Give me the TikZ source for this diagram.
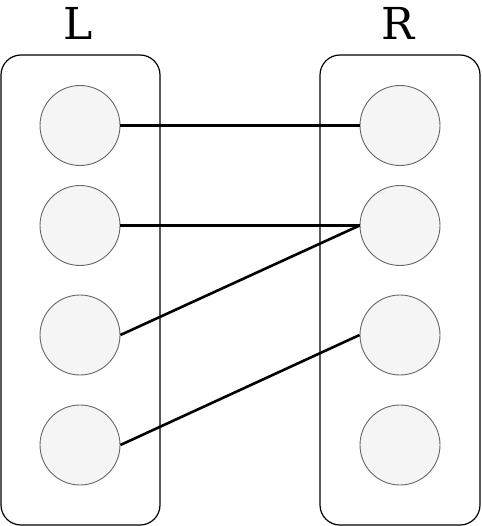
\documentclass[tikz,border=0pt]{standalone}
\usepackage{fontspec}
\setmainfont{DejaVu Serif}
\begin{document}
\begin{tikzpicture}[x=1pt,y=-1pt,
  grp/.style={draw=black,line width=1.2pt,rounded corners=20pt},
  vtx/.style={circle,draw=black!60,fill=black!4,line width=0.9pt,minimum size=80pt,inner sep=0pt},
  edge/.style={line width=2.6pt,black},
  ttl/.style={font=\fontsize{44}{48}\selectfont,inner sep=0pt,anchor=base}]
\useasboundingbox (0,0) rectangle (481,526);
\draw[grp] (1,55) rectangle (160,525);
\draw[grp] (320,55) rectangle (480,525);
\node[ttl] (tl) at (78,40) {L};
\node[ttl] (tr) at (398,40) {R};
\node[vtx] (l1) at (80,125.5) {};
\node[vtx] (l2) at (80,225.5) {};
\node[vtx] (l3) at (80,335) {};
\node[vtx] (l4) at (80,445) {};
\node[vtx] (r1) at (400,125.5) {};
\node[vtx] (r2) at (400,225.5) {};
\node[vtx] (r3) at (400,335) {};
\node[vtx] (r4) at (400,445) {};
\draw[edge] (l1.east) -- (r1.west);
\draw[edge] (l2.east) -- (r2.west);
\draw[edge] (l3.east) -- (r2.west);
\draw[edge] (l4.east) -- (r3.west);
\end{tikzpicture}
\end{document}
